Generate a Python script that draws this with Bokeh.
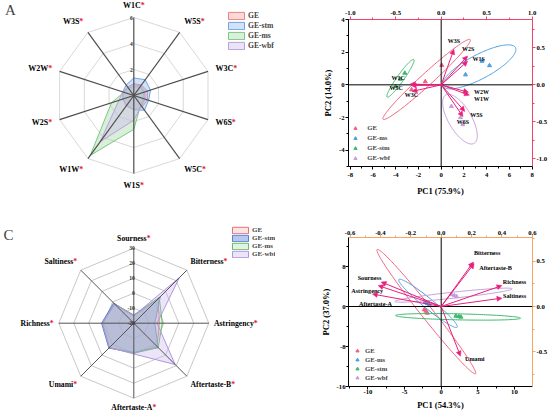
import numpy as np
from bokeh.plotting import figure
from bokeh.models import (Range1d, LinearAxis, FixedTicker, Arrow, NormalHead, Label,
                          Legend, LegendItem, ColumnDataSource, Span, PrintfTickFormatter)
from bokeh.layouts import row, column
from bokeh.embed import file_html
from bokeh.resources import INLINE
from bokeh.core.properties import value

FONT = "Liberation Serif"

# ---------------- Panel A : E-nose radar ----------------
a_sensors = ["W1C", "W5S", "W3C", "W6S", "W5C", "W1S", "W1W", "W2S", "W2W", "W3S"]
a_groups = ["GE", "GE-stm", "GE-ms", "GE-wbf"]
a_ge = [0.9, 1.0, 1.1, 1.1, 1.1, 1.1, 1.0, 0.9, 0.8, 0.8]
a_stm = [1.35, 1.5, 1.35, 1.2, 1.4, 1.1, 0.9, 0.9, 0.9, 1.0]
a_ms = [0.7, 0.8, 0.8, 0.8, 0.9, 2.6, 5.7, 1.8, 0.8, 0.7]
a_wbf = [0.9, 0.9, 0.9, 0.9, 1.0, 1.9, 4.4, 1.2, 0.9, 0.8]
a_ticks = [2, 4, 6]

# ---------------- Panel C : E-tongue radar ----------------
c_tastes = ["Sourness", "Bitterness", "Astringency", "Aftertaste-B",
            "Aftertaste-A", "Umami", "Richness", "Saltiness"]
c_groups = ["GE", "GE-stm", "GE-ms", "GE-wbf"]
c_ge = [-15, 3, -3, 2, 0, 3, 1, -2]
c_stm = [-15, 5, -6, 3, -0.5, 3.5, 1.5, -1]
c_ms = [-14.5, 4, -1, 3, 0, 3, 1, -2]
c_wbf = [-15, 23, -4.5, 19, 0.5, 3, 1, -2]
c_ticks = [-20, -10, 0, 10, 20, 30]

# ---------------- Panel B : PCA biplot (E-nose) ----------------
b_groups = ["GE", "GE-ms", "GE-stm", "GE-wbf"]
b_score_x = {"GE": [0.05, -1.4, -2.6], "GE-ms": [3.6, 4.25, 2.14],
             "GE-stm": [-3.2, -4.0, -3.6], "GE-wbf": [0.9, 1.7, 1.9]}
b_score_y = {"GE": [1.2, 0.2, -0.3], "GE-ms": [1.45, 1.18, 0.62],
             "GE-stm": [0.72, -0.1, 0.35], "GE-wbf": [-1.32, -2.0, -2.43]}
# confidence ellipses: centre, half major axis vector, half minor axis vector
b_ell_c = {"GE": (-1.28, 0.33), "GE-ms": (3.35, 1.1), "GE-stm": (-3.58, 0.40), "GE-wbf": (1.65, -2.1)}
b_ell_a = {"GE": (3.83, 2.44), "GE-ms": (3.18, 1.18), "GE-stm": (1.17, 1.15), "GE-wbf": (1.25, -1.48)}
b_ell_b = {"GE": (-0.36, 0.27), "GE-ms": (-0.50, 0.65), "GE-stm": (-0.25, 0.12), "GE-wbf": (0.87, 0.36)}
b_vars = ["W3S", "W2S", "W1S", "W1C", "W5C", "W3C", "W2W", "W1W", "W5S", "W6S"]
b_load_x = [0.14, 0.29, 0.29, -0.34, -0.33, -0.32, 0.30, 0.31, 0.26, 0.24]
b_load_y = [0.48, 0.39, 0.32, 0.01, -0.01, -0.09, -0.10, -0.14, -0.36, -0.43]

# ---------------- Panel D : PCA biplot (E-tongue) ----------------
d_groups = ["GE", "GE-ms", "GE-stm", "GE-wbf"]
d_score_x = {"GE": [-2.3, -1.9, -2.1], "GE-ms": [-1.9, -1.6, -2.2],
             "GE-stm": [2.0, 2.4, 2.7], "GE-wbf": [1.4, 1.8, 2.1]}
d_score_y = {"GE": [-0.6, -1.3, -0.9], "GE-ms": [0.6, 0.3, 0.9],
             "GE-stm": [-1.9, -2.0, -2.1], "GE-wbf": [2.4, 2.2, 2.0]}
d_ell_c = {"GE": (-2.03, -1.03), "GE-ms": (-1.8, 0.63), "GE-stm": (2.3, -2.07), "GE-wbf": (1.69, 2.27)}
d_ell_a = {"GE": (6.72, -12.43), "GE-ms": (3.98, -4.77), "GE-stm": (8.54, -0.27), "GE-wbf": (8.01, 1.27)}
d_ell_b = {"GE": (0.64, 0.74), "GE-ms": (0.43, 0.78), "GE-stm": (0.01, 0.6), "GE-wbf": (-0.04, 0.6)}
d_vars = ["Bitterness", "Aftertaste-B", "Richness", "Saltiness",
          "Sourness", "Astringency", "Aftertaste-A", "Umami"]
d_load_x = [0.212, 0.217, 0.40, 0.40, -0.395, -0.453, -0.415, 0.127]
d_load_y = [0.49, 0.473, 0.23, 0.092, 0.27, 0.1375, 0.23, -0.546]

# ---------------- styles ----------------
RADAR_FILL = {"GE": "#f4a0a0", "GE-stm": "#8fb8ec", "GE-ms": "#9fd8a3", "GE-wbf": "#cdb9ec"}
RADAR_LINE = {"GE": "#f08080", "GE-stm": "#6fa3e6", "GE-ms": "#79c982", "GE-wbf": "#b9a0e0"}
C_FILL = {"GE": "#f4a7a7", "GE-stm": "#6f8fdc", "GE-ms": "#9fd79f", "GE-wbf": "#c9b3ee"}
C_LINE = {"GE": "#e57373", "GE-stm": "#5b7fd6", "GE-ms": "#66bb6a", "GE-wbf": "#b394e0"}
C_ALPHA = {"GE": 0.3, "GE-stm": 0.5, "GE-ms": 0.3, "GE-wbf": 0.35}
PCA_COL = {"GE": "#f2607e", "GE-ms": "#4a9fe0", "GE-stm": "#3cb96b", "GE-wbf": "#c59ddb"}
PINK = "#e8207a"
STAR = "#e8152b"

TB = {' ': 250, '*': 500, '-': 333, '.': 250, '%': 1000, '(': 333, ')': 333,
      'A': 722, 'B': 667, 'C': 722, 'S': 556, 'U': 722, 'R': 722, 'W': 1000,
      'a': 500, 'b': 556, 'c': 444, 'e': 444, 'f': 333, 'g': 500, 'h': 556, 'i': 278,
      'm': 833, 'n': 556, 'o': 500, 'r': 444, 's': 389, 't': 333, 'u': 556, 'y': 500, 'l': 278}


def tw(s, size):
    return sum(TB.get(ch, 500) for ch in s) * size / 1000.0


def make_radar(w, h, cx, cy, scale):
    p = figure(width=w, height=h,
               x_range=Range1d(-cx / scale, (w - cx) / scale),
               y_range=Range1d(-(h - cy) / scale, cy / scale),
               x_axis_type=None, y_axis_type=None,
               toolbar_location=None, output_backend="svg", min_border=0)
    p.outline_line_color = None
    return p


def radar_labels(p, names, angles, r, size):
    for name, th in zip(names, angles):
        c, s = np.cos(th), np.sin(th)
        total = tw(name + "*", size)
        if abs(c) < 0.1:
            start = -total / 2
        elif c > 0:
            start = 0
        else:
            start = -total
        if abs(c) >= 0.1 and abs(s) < 0.5:
            base = "middle"
        elif s > 0:
            base = "bottom"
        else:
            base = "top"
        kw = dict(text_font=value(FONT), text_font_style="bold", text_font_size=f"{size}px",
                  text_align="left", text_baseline=base)
        p.text(x=[r * c], y=[r * s], text=[name], x_offset=start, text_color="black", **kw)
        p.text(x=[r * c], y=[r * s], text=["*"], x_offset=start + tw(name, size), text_color=STAR, **kw)


def closed(rs, angles):
    xs = [r * np.cos(t) for r, t in zip(rs, angles)]
    ys = [r * np.sin(t) for r, t in zip(rs, angles)]
    return xs, ys


def letter(p, ch, x, y):
    p.add_layout(Label(x=x, y=y, x_units="screen", y_units="screen", text=ch,
                       text_font=FONT, text_font_size="15px", text_align="center",
                       text_baseline="middle"))


# ================= Panel A =================
pA = make_radar(275, 206, 133.3, 95, 13.0)
angA = [np.pi / 2 - i * 2 * np.pi / len(a_sensors) for i in range(len(a_sensors))]
for rv in a_ticks:
    xs, ys = closed([rv] * len(angA), angA)
    pA.line(xs + xs[:1], ys + ys[:1], line_color="#d9d9d9", line_width=1)
rendA = {}
for g, vals in zip(a_groups, [a_ge, a_stm, a_ms, a_wbf]):
    xs, ys = closed(vals, angA)
    rendA[g] = pA.patch(xs, ys, fill_color=RADAR_FILL[g], fill_alpha=0.4,
                        line_color=RADAR_LINE[g], line_width=1)
pA.segment(x0=[0] * len(angA), y0=[0] * len(angA),
           x1=[max(a_ticks) * np.cos(t) for t in angA], y1=[max(a_ticks) * np.sin(t) for t in angA],
           line_color="#4d4d4d", line_width=1.2)
pA.text(x=[0] * len(a_ticks), y=a_ticks, text=[str(t) for t in a_ticks], x_offset=-1,
        text_font=value(FONT), text_font_style="bold", text_font_size="5.5px",
        text_align="right", text_baseline="middle", text_color="#333333")
radar_labels(pA, a_sensors, angA, 6.6, 8)
legA = Legend(items=[LegendItem(label=g, renderers=[rendA[g]]) for g in a_groups],
              location=(226, 155.5), orientation="vertical", padding=0, spacing=0, margin=0,
              glyph_width=20, glyph_height=9, label_height=10, label_standoff=2,
              label_text_font=FONT, label_text_font_style="bold", label_text_font_size="7.6px",
              border_line_color=None, background_fill_alpha=0)
pA.add_layout(legA)
letter(pA, "A", 10, 197)

# ================= Panel C =================
pC = make_radar(275, 207, 133.3, 116.7, 1.5)
angC = [np.pi / 2 - i * 2 * np.pi / len(c_tastes) for i in range(len(c_tastes))]
c_min = min(c_ticks)
for tv in c_ticks[1:]:
    xs, ys = closed([tv - c_min] * len(angC), angC)
    pC.line(xs + xs[:1], ys + ys[:1], line_color="#c8c8c8", line_width=1)
rendC = {}
for g, vals in zip(c_groups, [c_ge, c_stm, c_ms, c_wbf]):
    xs, ys = closed([v - c_min for v in vals], angC)
    rendC[g] = pC.patch(xs, ys, fill_color=C_FILL[g], fill_alpha=C_ALPHA[g],
                        line_color=C_LINE[g], line_width=1)
rmax = max(c_ticks) - c_min
pC.segment(x0=[0] * len(angC), y0=[0] * len(angC),
           x1=[rmax * np.cos(t) for t in angC], y1=[rmax * np.sin(t) for t in angC],
           line_color="#555555", line_width=1)
pC.text(x=[0] * len(c_ticks), y=[t - c_min for t in c_ticks], text=[str(t) for t in c_ticks],
        x_offset=1, text_font=value(FONT), text_font_style="bold", text_font_size="5.5px",
        text_align="right", text_baseline="middle", text_color="#333333")
radar_labels(pC, c_tastes, angC, 53.5, 7.7)
legC = Legend(items=[LegendItem(label=g, renderers=[rendC[g]]) for g in c_groups],
              location=(230, 155), orientation="vertical", padding=0, spacing=0, margin=0,
              glyph_width=20, glyph_height=8, label_height=8, label_standoff=2,
              label_text_font=FONT, label_text_font_style="bold", label_text_font_size="7px",
              border_line_color=None, background_fill_alpha=0)
pC.add_layout(legC)
letter(pC, "C", 8, 179)


# ================= PCA helpers =================
def style_axis(ax, ticks, minor, fmt, color, standoff, title=None, title_standoff=0):
    ax.ticker = FixedTicker(ticks=ticks, minor_ticks=minor)
    ax.formatter = PrintfTickFormatter(format=fmt)
    ax.axis_line_color = color
    ax.major_tick_line_color = color
    ax.minor_tick_line_color = color
    ax.axis_line_width = 1
    ax.major_tick_in = 0
    ax.major_tick_out = 3
    ax.minor_tick_in = 0
    ax.minor_tick_out = 2
    ax.major_label_text_font = FONT
    ax.major_label_text_font_style = "bold"
    ax.major_label_text_font_size = "6.7px"
    ax.major_label_text_color = "black"
    ax.major_label_standoff = standoff
    if title:
        ax.axis_label = title
        ax.axis_label_text_font = FONT
        ax.axis_label_text_font_style = "bold"
        ax.axis_label_text_font_size = "8.5px"
        ax.axis_label_text_color = "black"
        ax.axis_label_standoff = title_standoff


def make_pca(w, h, xr, yr, tr, rr, borders):
    left, right, top, bottom = borders
    p = figure(width=w, height=h, x_range=Range1d(*xr), y_range=Range1d(*yr),
               toolbar_location=None, output_backend="svg",
               min_border_left=left, min_border_right=right,
               min_border_top=top, min_border_bottom=bottom)
    p.grid.visible = False
    p.outline_line_color = None
    p.extra_x_ranges = {"top": Range1d(*tr)}
    p.extra_y_ranges = {"right": Range1d(*rr)}
    p.add_layout(LinearAxis(x_range_name="top"), "above")
    p.add_layout(LinearAxis(y_range_name="right"), "right")
    p.add_layout(Span(location=0, dimension="height", line_color="black", line_width=1))
    p.add_layout(Span(location=0, dimension="width", line_color="black", line_width=1))
    return p


def ellipse_pts(c, a, b):
    t = np.linspace(0, 2 * np.pi, 181)
    return (c[0] + a[0] * np.cos(t) + b[0] * np.sin(t),
            c[1] + a[1] * np.cos(t) + b[1] * np.sin(t))


def draw_pca(p, groups, sx, sy, ec, ea, eb, vnames, lx, ly, offs, label_size, leg_loc, leg_row, leg_standoff):
    rend = {}
    for g in groups:
        ex, ey = ellipse_pts(ec[g], ea[g], eb[g])
        p.line(ex, ey, line_color=PCA_COL[g], line_width=1)
        rend[g] = p.scatter(sx[g], sy[g], marker="triangle", size=4,
                            fill_color=PCA_COL[g], line_color=PCA_COL[g])
    src = ColumnDataSource(dict(x0=[0.0] * len(lx), y0=[0.0] * len(lx), x1=lx, y1=ly))
    p.add_layout(Arrow(end=NormalHead(size=5, fill_color=PINK, line_color=PINK, line_width=0.5),
                       x_start="x0", y_start="y0", x_end="x1", y_end="y1", source=src,
                       line_color=PINK, line_width=1, x_range_name="top", y_range_name="right"))
    p.text(x=lx, y=ly, text=vnames, x_offset=[o[0] for o in offs], y_offset=[o[1] for o in offs],
           x_range_name="top", y_range_name="right",
           text_font=value(FONT), text_font_style="bold", text_font_size=f"{label_size}px",
           text_align="center", text_baseline="middle", text_color="black")
    leg = Legend(items=[LegendItem(label=g, renderers=[rend[g]]) for g in groups],
                 location=leg_loc, orientation="vertical", padding=0, spacing=0, margin=0,
                 glyph_width=8, glyph_height=leg_row, label_height=leg_row, label_standoff=leg_standoff,
                 label_text_font=FONT, label_text_font_style="bold", label_text_font_size="6.7px",
                 border_line_color=None, background_fill_alpha=0)
    p.add_layout(leg)


# ================= Panel B =================
RED_AX = "#f0446a"
pB = make_pca(275, 206, (-8.15, 8.03), (-5, 4), (-8.15 / 8, 8.03 / 8), (-5 * 0.221, 4 * 0.221),
              (73, 18, 19, 40))
style_axis(pB.below[0], [-8, -6, -4, -2, 0, 2, 4, 6, 8], list(range(-8, 9)), "%d", "black", 3,
           "PC1 (75.9%)", 6)
style_axis(pB.left[0], [-4, -2, 0, 2, 4], list(range(-5, 5)), "%d", "black", 1, "PC2 (14.0%)", 3)
style_axis(pB.above[0], [-1.0, -0.5, 0.0, 0.5, 1.0], [-1.0, -0.75, -0.5, -0.25, 0.0, 0.25, 0.5, 0.75, 1.0],
           "%.1f", RED_AX, 2)
style_axis(pB.right[0], [-1.0, -0.5, 0.0, 0.5], [-1.0, -0.75, -0.5, -0.25, 0.0, 0.25, 0.5, 0.75],
           "%.1f", RED_AX, 1)
b_offs = [(0, -8.8), (0.6, -7.2), (11.2, -2.4), (-12.1, -5.9), (-15, 2.7), (-0.6, 4),
          (13, 0), (12.1, 3.7), (11.6, 3.1), (-0.2, 4.9)]
draw_pca(pB, b_groups, b_score_x, b_score_y, b_ell_c, b_ell_a, b_ell_b,
         b_vars, b_load_x, b_load_y, b_offs, 6, (3.3, 3.4), 10, 8)
letter(pB, "B", -35.5, 157.7)

# ================= Panel D =================
OR_AX = "#f5a463"
pD = make_pca(275, 207, (-12.66, 12.47), (-16, 13.8), (-12.66 * 0.0482, 12.47 * 0.0482),
              (-16 * 0.055, 13.8 * 0.055), (73, 18, 31, 27))
style_axis(pD.below[0], [-10, -5, 0, 5, 10], [-12.5, -10, -7.5, -5, -2.5, 0, 2.5, 5, 7.5, 10, 12.5],
           "%d", "black", 0, "PC1 (54.3%)", 3)
style_axis(pD.left[0], [-16, -8, 0, 8], [-16, -12, -8, -4, 0, 4, 8, 12], "%d", "black", 0, "PC2 (37.0%)", 3)
style_axis(pD.above[0], [-0.6, -0.4, -0.2, 0.0, 0.2, 0.4, 0.6],
           [-0.6, -0.5, -0.4, -0.3, -0.2, -0.1, 0.0, 0.1, 0.2, 0.3, 0.4, 0.5, 0.6], "%.1f", OR_AX, 0)
style_axis(pD.right[0], [-0.5, 0.0, 0.5], [-0.75, -0.5, -0.25, 0.0, 0.25, 0.5, 0.75], "%.1f", OR_AX, 1)
d_offs = [(13.8, -9.8), (21.4, 3.7), (12.6, -3.7), (12.6, -3), (-11.7, -4.8), (-5.2, -3.5),
          (-2.7, 17.7), (14.3, 2)]
draw_pca(pD, d_groups, d_score_x, d_score_y, d_ell_c, d_ell_a, d_ell_b,
         d_vars, d_load_x, d_load_y, d_offs, 6.2, (5, 3.8), 9, 4)
letter(pD, "D", -35.5, 151.3)

layout = row(column(pA, pC), column(pB, pD))
open("out.html", "w").write(file_html(layout, INLINE))
